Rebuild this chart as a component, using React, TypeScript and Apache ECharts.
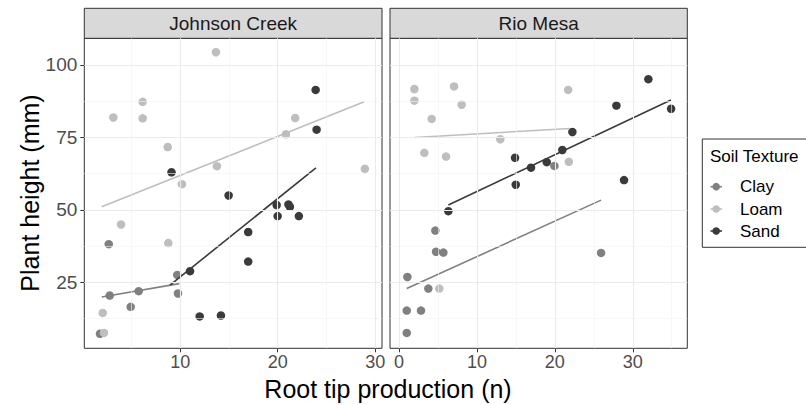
import React, { useEffect, useRef } from "react";
import * as echarts from "echarts";

const panels = ["Johnson Creek", "Rio Mesa"];
const textures = ["Clay", "Loam", "Sand"];
const textureColors = ["#808080", "#BEBEBE", "#3A3A3A"];

const yTicks = [25, 50, 75, 100];
const yMinor = [12.5, 37.5, 62.5, 87.5];
const xTicks = [[10, 20, 30], [0, 10, 20, 30]];
const xMinor = [[5, 15, 25], [5, 15, 25, 35]];
const xRanges = [[0.15, 30.7], [-1.16, 37.0]];
const yRange = [2.3, 109.2];

// Johnson Creek points [root tips, height]
const jcClay = [[2.66, 38.2], [2.76, 20.5], [5.73, 22.0], [4.91, 16.6], [1.76, 7.3], [9.69, 27.6], [9.76, 21.2]];
const jcLoam = [[13.66, 104.4], [3.13, 81.9], [6.14, 87.3], [6.14, 81.6], [8.71, 71.7], [10.17, 58.9], [13.76, 65.1], [20.84, 76.1], [21.79, 81.7], [28.94, 64.2], [3.92, 45.0], [8.77, 38.6], [2.04, 14.5], [2.17, 7.6]];
const jcSand = [[9.1, 63.0], [23.89, 91.4], [23.99, 77.7], [14.96, 55.0], [19.89, 51.7], [21.1, 51.9], [21.25, 51.1], [19.99, 47.9], [22.17, 47.9], [16.97, 42.4], [16.97, 32.2], [11.0, 28.9], [11.99, 13.3], [14.17, 13.6]];

// Rio Mesa points
const rmClay = [[19.94, 65.2], [4.66, 42.9], [4.75, 35.6], [5.69, 35.3], [25.93, 35.2], [1.07, 26.9], [3.76, 22.9], [0.99, 15.3], [2.82, 15.3], [0.99, 7.6]];
const rmLoam = [[1.97, 91.7], [1.97, 87.7], [7.06, 92.6], [8.04, 86.3], [4.19, 81.4], [21.7, 91.4], [13.0, 74.4], [3.25, 69.7], [6.03, 68.4], [21.8, 66.6], [5.17, 22.9]];
const rmSand = [[32.0, 95.1], [27.9, 86.0], [34.92, 84.9], [22.25, 76.9], [20.96, 70.7], [14.89, 68.0], [16.94, 64.6], [18.96, 66.5], [14.98, 58.7], [28.88, 60.3], [6.33, 49.6]];

// Linear fit endpoints
const jcClayFit = [[1.94, 20.0], [9.9, 24.6]];
const jcLoamFit = [[1.94, 51.1], [28.87, 87.3]];
const jcSandFit = [[8.94, 24.1], [23.92, 64.5]];
const rmClayFit = [[0.99, 22.9], [25.93, 53.4]];
const rmLoamFit = [[1.97, 75.0], [21.95, 78.1]];
const rmSandFit = [[6.33, 51.7], [34.9, 87.9]];

const pointsByPanel = [[jcClay, jcLoam, jcSand], [rmClay, rmLoam, rmSand]];
const fitsByPanel = [[jcClayFit, jcLoamFit, jcSandFit], [rmClayFit, rmLoamFit, rmSandFit]];

const FONT = "'Liberation Sans', Arial, sans-serif";

export default function App() {
  const ref = useRef<HTMLDivElement>(null);
  useEffect(() => {
    if (!ref.current) return;
    const chart = echarts.init(ref.current, undefined, { renderer: "svg" });
    const gridBoxes = [
      { left: 84.3, top: 38.3, width: 297.7, height: 310 },
      { left: 390, top: 38.3, width: 297.3, height: 310 },
    ];
    const series: any[] = [];
    gridBoxes.forEach((_, p) => {
      const major = { color: "#EBEBEB", width: 1.1, type: "solid" };
      const minor = { color: "#F3F3F3", width: 0.6, type: "solid" };
      series.push({
        type: "scatter",
        xAxisIndex: p,
        yAxisIndex: p,
        data: [],
        silent: true,
        z: 0,
        markLine: {
          silent: true,
          symbol: ["none", "none"],
          label: { show: false },
          animation: false,
          data: [
            ...yMinor.map((v) => ({ yAxis: v, lineStyle: minor })),
            ...xMinor[p].map((v) => ({ xAxis: v, lineStyle: minor })),
            ...yTicks.map((v) => ({ yAxis: v, lineStyle: major })),
            ...xTicks[p].map((v) => ({ xAxis: v, lineStyle: major })),
          ],
        },
      });
      textures.forEach((t, i) => {
        series.push({
          name: t,
          type: "scatter",
          xAxisIndex: p,
          yAxisIndex: p,
          data: pointsByPanel[p][i],
          symbolSize: 8.5,
          itemStyle: { color: textureColors[i], opacity: 1 },
          z: 2,
        });
        series.push({
          name: t + " fit",
          type: "line",
          xAxisIndex: p,
          yAxisIndex: p,
          data: fitsByPanel[p][i],
          showSymbol: false,
          symbol: "none",
          lineStyle: { color: textureColors[i], width: 1.6 },
          z: 3,
        });
      });
    });

    const graphics: any[] = [];
    gridBoxes.forEach((g, p) => {
      graphics.push({
        type: "rect",
        shape: { x: g.left, y: 8.3, width: g.width, height: 30 },
        style: { fill: "#D9D9D9", stroke: "#333333", lineWidth: 1 },
      });
      graphics.push({
        type: "text",
        x: g.left + g.width / 2,
        y: 23.5,
        style: { text: panels[p], font: `19px ${FONT}`, fill: "#1A1A1A", textAlign: "center", textVerticalAlign: "middle" },
      });
    });
    graphics.push({
      type: "text",
      x: 30,
      y: 193,
      rotation: Math.PI / 2,
      style: { text: "Plant height (mm)", font: `25px ${FONT}`, fill: "#000", textAlign: "center", textVerticalAlign: "middle" },
    });
    graphics.push({
      type: "text",
      x: 388,
      y: 389,
      style: { text: "Root tip production (n)", font: `25px ${FONT}`, fill: "#000", textAlign: "center", textVerticalAlign: "middle" },
    });
    // legend
    graphics.push({
      type: "rect",
      shape: { x: 702.3, y: 139, width: 120, height: 108.3 },
      style: { fill: "#fff", stroke: "#333333", lineWidth: 1 },
    });
    graphics.push({
      type: "text",
      x: 710,
      y: 156,
      style: { text: "Soil Texture", font: `17px ${FONT}`, fill: "#000", textAlign: "left", textVerticalAlign: "middle" },
    });
    const legendY = [186.7, 209, 231];
    textures.forEach((t, i) => {
      graphics.push({
        type: "line",
        shape: { x1: 710.5, y1: legendY[i], x2: 722, y2: legendY[i] },
        style: { stroke: textureColors[i], lineWidth: 1.6 },
      });
      graphics.push({
        type: "circle",
        shape: { cx: 716.2, cy: legendY[i], r: 3.8 },
        style: { fill: textureColors[i] },
      });
      graphics.push({
        type: "text",
        x: 740,
        y: legendY[i],
        style: { text: t, font: `17px ${FONT}`, fill: "#000", textAlign: "left", textVerticalAlign: "middle" },
      });
    });

    chart.setOption({
      animation: false,
      backgroundColor: "#ffffff",
      grid: gridBoxes.map((g) => ({ ...g, show: true, borderColor: "#333333", borderWidth: 1, backgroundColor: "#ffffff", containLabel: false })),
      xAxis: gridBoxes.map((_, p) => ({
        type: "value",
        gridIndex: p,
        min: xRanges[p][0],
        max: xRanges[p][1],
        axisLine: { show: false },
        splitLine: { show: false },
        axisTick: { show: true, customValues: xTicks[p], length: 4, lineStyle: { color: "#333333", width: 1 } },
        axisLabel: { customValues: xTicks[p], margin: 5, color: "#4D4D4D", fontSize: 18, fontFamily: FONT },
      })),
      yAxis: gridBoxes.map((_, p) => ({
        type: "value",
        gridIndex: p,
        min: yRange[0],
        max: yRange[1],
        axisLine: { show: false },
        splitLine: { show: false },
        axisTick: { show: p === 0, customValues: yTicks, length: 4, lineStyle: { color: "#333333", width: 1 } },
        axisLabel: { show: p === 0, customValues: yTicks, margin: 7, color: "#4D4D4D", fontSize: 19, fontFamily: FONT },
      })),
      series,
      graphic: graphics,
    });
    return () => chart.dispose();
  }, []);
  return <div ref={ref} style={{ position: "fixed", left: 0, top: 0, width: 806, height: 405 }} />;
}
